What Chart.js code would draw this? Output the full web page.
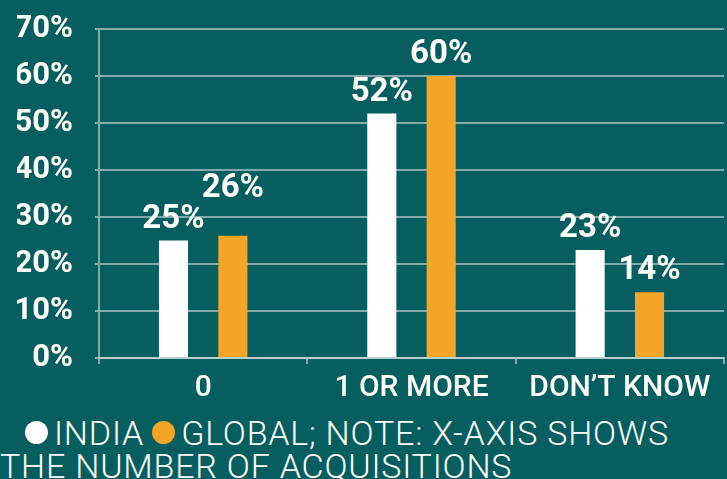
<!DOCTYPE html>
<html>
<head>
<meta charset="utf-8">
<script src="https://cdn.jsdelivr.net/npm/chart.js@4"></script>
<style>
  html, body {
    margin: 0;
    padding: 0;
    background: #075e5f;
    overflow: hidden;
  }
  #wrap {
    position: relative;
    width: 727px;
    height: 479px;
  }
  #box {
    position: absolute;
    left: 0;
    top: 0;
    width: 727px;
    height: 412px;
  }
  #note {
    position: absolute;
    left: 0;
    top: 417px;
    width: 727px;
    font-family: Roboto, sans-serif;
    font-weight: 300;
    font-size: 34px;
    line-height: 33px;
    letter-spacing: 0.8px;
    color: #ffffff;
    white-space: nowrap;
  }
  .dot {
    display: inline-block;
    width: 23px;
    height: 23px;
    border-radius: 50%;
    vertical-align: 1px;
  }
</style>
</head>
<body>
<div id="wrap">
  <div id="box"><canvas id="acq"></canvas></div>
  <div id="note"><span class="dot" style="background:#ffffff;margin:0 6px 0 25px"></span>INDIA<span class="dot" style="background:#f2a526;margin:0 6px 0 8px"></span>GLOBAL; NOTE: X-AXIS SHOWS<br>THE NUMBER OF ACQUISITIONS</div>
</div>
<script>
const categories = ["0", "1 OR MORE", "DON\u2019T KNOW"];
const india = [25, 52, 23];
const global = [26, 60, 14];
const yTicks = [0, 10, 20, 30, 40, 50, 60, 70];

const gridColor = "rgba(225, 235, 235, 0.55)";

// value labels above every bar; the 26% label sits a bit higher
const barLabels = {
  id: "barLabels",
  afterDatasetsDraw(chart, args, opts) {
    const ctx = chart.ctx;
    ctx.save();
    ctx.font = "bold 33px Roboto";
    ctx.fillStyle = "#ffffff";
    ctx.textAlign = "center";
    ctx.textBaseline = "alphabetic";
    chart.data.datasets.forEach((ds, i) => {
      const meta = chart.getDatasetMeta(i);
      meta.data.forEach((bar, j) => {
        const lift = (opts.lift[i] && opts.lift[i][j]) || 0;
        ctx.fillText(ds.data[j] + "%", bar.x, bar.y - 13 - lift);
      });
    });
    ctx.restore();
  },
};

new Chart(document.getElementById("acq"), {
  type: "bar",
  data: {
    labels: categories,
    datasets: [
      {
        label: "INDIA",
        data: india,
        backgroundColor: "#ffffff",
        categoryPercentage: 0.57,
        barPercentage: 0.49,
      },
      {
        label: "GLOBAL",
        data: global,
        backgroundColor: "#f2a526",
        categoryPercentage: 0.57,
        barPercentage: 0.49,
      },
    ],
  },
  options: {
    responsive: true,
    maintainAspectRatio: false,
    animation: false,
    layout: {
      padding: { top: 29, left: 17, right: 3, bottom: 0 },
    },
    plugins: {
      legend: { display: false },
      tooltip: { enabled: false },
      barLabels: { lift: [[0, 0, 0], [26, 0, 0]] },
    },
    scales: {
      x: {
        grid: {
          display: true,
          drawOnChartArea: false,
          offset: true,
          tickLength: 6,
          color: gridColor,
          lineWidth: 2,
        },
        border: { color: gridColor, width: 2 },
        ticks: {
          color: "#ffffff",
          font: { family: "Roboto", size: 30, weight: "500" },
          padding: 6,
        },
      },
      y: {
        min: 0,
        max: 70,
        afterBuildTicks: (axis) => {
          axis.ticks = yTicks.map((v) => ({ value: v }));
        },
        afterFit: (axis) => {
          axis.width = 82;
          axis.paddingTop = 0;
        },
        grid: {
          color: gridColor,
          lineWidth: 2,
          tickLength: 4,
        },
        border: { color: gridColor, width: 2 },
        ticks: {
          color: "#ffffff",
          font: { family: "Roboto", size: 31, weight: "bold" },
          padding: 22,
          callback: (v) => v + "%",
        },
      },
    },
  },
  plugins: [barLabels],
});
</script>
</body>
</html>
